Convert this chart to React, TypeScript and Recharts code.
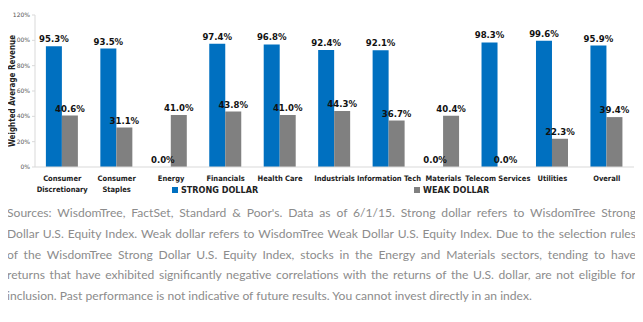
import { BarChart, Bar, XAxis, YAxis, LabelList, Legend } from 'recharts';

const sectors = [
  'Consumer Discretionary',
  'Consumer Staples',
  'Energy',
  'Financials',
  'Health Care',
  'Industrials',
  'Information Tech',
  'Materials',
  'Telecom Services',
  'Utilities',
  'Overall',
];
const strongDollar = [95.3, 93.5, 0.0, 97.4, 96.8, 92.4, 92.1, 0.0, 98.3, 99.6, 95.9];
const weakDollar = [40.6, 31.1, 41.0, 43.8, 41.0, 44.3, 36.7, 40.4, 0.0, 22.3, 39.4];
const yTicks = [0, 20, 40, 60, 80, 100, 120];

const captionLines = [
  "Sources: WisdomTree, FactSet, Standard & Poor's. Data as of 6/1/15. Strong dollar refers to WisdomTree Strong",
  'Dollar U.S. Equity Index. Weak dollar refers to WisdomTree Weak Dollar U.S. Equity Index. Due to the selection rules',
  'of the WisdomTree Strong Dollar U.S. Equity Index, stocks in the Energy and Materials sectors, tending to have',
  'returns that have exhibited significantly negative correlations with the returns of the U.S. dollar, are not eligible for',
  'inclusion. Past performance is not indicative of future results. You cannot invest directly in an index.',
];

const BLUE = '#0070C0';
const GRAY = '#808080';
const FONT = "'DejaVu Sans Condensed', 'DejaVu Sans', sans-serif";

const data = sectors.map((name, i) => ({
  name,
  strong: strongDollar[i],
  weak: weakDollar[i],
}));

const SectorTick = ({ x, y, payload }: any) => {
  const words: string[] = payload.value.startsWith('Consumer')
    ? payload.value.split(' ')
    : [payload.value];
  return (
    <text x={x} y={y + 6} textAnchor="middle" fontSize={7.5} fontWeight="bold" fill="#222" fontFamily={FONT}>
      {words.map((w, i) => (
        <tspan key={i} x={x} dy={i === 0 ? 0 : 11}>
          {w}
        </tspan>
      ))}
    </text>
  );
};

const LegendBox = () => (
  <div style={{ position: 'relative', height: 14, fontFamily: FONT, fontSize: 9, fontWeight: 'bold', color: '#222' }}>
    <div style={{ position: 'absolute', left: 172, top: 1, display: 'flex', alignItems: 'center', gap: 3 }}>
      <span style={{ width: 6, height: 6, background: BLUE, display: 'inline-block' }} />
      STRONG DOLLAR
    </div>
    <div style={{ position: 'absolute', left: 414, top: 1, display: 'flex', alignItems: 'center', gap: 3 }}>
      <span style={{ width: 6, height: 6, background: GRAY, display: 'inline-block' }} />
      WEAK DOLLAR
    </div>
  </div>
);

// draws the value above each bar, zero values included
const ValueLabel = ({ x, y, width, value }: any) => (
  <text
    x={x + width / 2}
    y={y - 4}
    textAnchor="middle"
    fontSize={9.5}
    fontWeight="bold"
    fill="#111"
    fontFamily={FONT}
  >
    {`${Number(value).toFixed(1)}%`}
  </text>
);

export default function App() {
  return (
    <div style={{ margin: -8, width: 643, height: 322, background: '#fff', position: 'relative' }}>
      <BarChart
        width={643}
        height={214}
        data={data}
        margin={{ top: 15, right: 9, left: 0, bottom: 0 }}
        barCategoryGap="20%"
        barGap={0}
      >
        <XAxis
          dataKey="name"
          interval={0}
          tick={<SectorTick />}
          tickLine={false}
          axisLine={{ stroke: '#d9d9d9' }}
          height={33}
        />
        <YAxis
          domain={[0, 120]}
          ticks={yTicks}
          tickFormatter={(v) => `${v}%`}
          tick={{ fontSize: 6, fill: '#555', fontFamily: 'DejaVu Sans, sans-serif' }}
          axisLine={{ stroke: '#d9d9d9' }}
          tickLine={{ stroke: '#d9d9d9' }}
          tickSize={3}
          width={35}
          label={{
            value: 'Weighted Average Revenue',
            angle: -90,
            position: 'insideLeft',
            offset: 12,
            style: { fontSize: 8, fontWeight: 'bold', fill: '#222', fontFamily: FONT, textAnchor: 'middle' },
          }}
        />
        <Legend verticalAlign="bottom" content={<LegendBox />} wrapperStyle={{ top: 184, left: 0, width: 643 }} />
        <Bar dataKey="strong" fill={BLUE} minPointSize={0.01} isAnimationActive={false}>
          <LabelList dataKey="strong" content={<ValueLabel />} />
        </Bar>
        <Bar dataKey="weak" fill={GRAY} minPointSize={0.01} isAnimationActive={false}>
          <LabelList dataKey="weak" content={<ValueLabel />} />
        </Bar>
      </BarChart>
      <div
        style={{
          position: 'absolute',
          left: 7,
          top: 203,
          width: 629,
          fontFamily: 'Lato, sans-serif',
          fontSize: 12.1,
          lineHeight: '20.8px',
          color: '#8c8c8c',
        }}
      >
        {captionLines.map((line, i) => (
          <div
            key={i}
            style={{
              textAlign: 'justify',
              textAlignLast: i < captionLines.length - 1 ? 'justify' : 'left',
              whiteSpace: 'nowrap',
            }}
          >
            {line}
          </div>
        ))}
      </div>
    </div>
  );
}
